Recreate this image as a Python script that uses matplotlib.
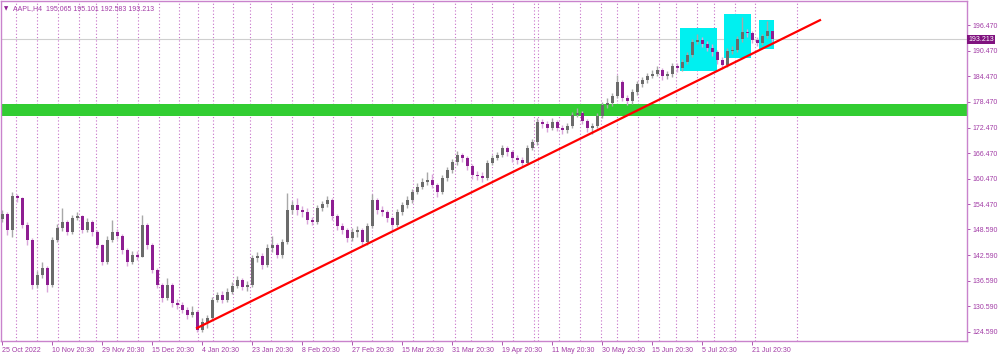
import matplotlib
matplotlib.use("Agg")
import matplotlib.pyplot as plt
from matplotlib.patches import Rectangle

# AAPL H4 - price path (one candle per ~5 px)
closes = [152.20, 148.45, 156.42, 155.95, 149.63, 146.11, 135.57, 137.92, 139.55, 135.57,
          146.11, 148.92, 150.33, 147.99, 151.26, 151.73, 148.45, 150.33, 147.99, 144.94,
          140.96, 146.11, 147.99, 147.05, 143.77, 140.96, 142.60, 142.10, 149.63, 144.94,
          139.09, 135.57, 132.53, 135.57, 131.36, 130.89, 129.72, 128.55, 129.25, 125.03,
          126.91, 127.84, 132.06, 133.23, 132.06, 133.93, 135.34, 136.74, 135.11, 135.57,
          141.90, 142.36, 140.26, 144.24, 144.90, 142.60, 145.64, 153.14, 154.31, 153.14,
          152.67, 150.80, 150.33, 153.61, 154.54, 155.48, 151.73, 149.39, 148.45, 146.58,
          147.99, 148.45, 145.64, 149.39, 155.48, 153.14, 152.67, 151.26, 149.63, 152.67,
          154.31, 155.48, 157.35, 158.52, 159.70, 160.16, 159.00, 157.35, 160.63, 162.51,
          164.38, 166.02, 165.32, 163.44, 161.33, 161.10, 160.70, 164.15, 165.32, 166.02,
          167.66, 166.72, 165.32, 164.90, 164.15, 167.66, 169.06, 173.75, 173.28, 172.34,
          173.75, 172.34, 171.87, 172.81, 175.39, 175.86, 173.98, 172.34, 172.81, 175.15,
          177.73, 178.20, 179.84, 183.12, 179.37, 178.67, 180.77, 182.65, 183.58, 184.52,
          184.99, 185.93, 184.52, 184.99, 186.86, 186.39, 187.80, 189.44, 192.48, 192.95,
          192.02, 191.08, 190.14, 188.27, 187.10, 190.38, 190.61, 193.19, 194.83, 194.59,
          192.95, 192.40, 193.89, 195.07, 193.213]
highs = [153.2, 152.6, 157.3, 157.0, 156.3, 150.4, 146.5, 138.9, 141.0, 140.0,
         146.8, 149.8, 153.6, 150.9, 152.0, 152.6, 152.1, 151.2, 150.8, 148.5,
         145.3, 147.0, 150.8, 148.6, 147.5, 144.3, 143.5, 143.6, 152.0, 150.1,
         145.4, 139.6, 136.0, 137.2, 136.0, 132.2, 131.5, 130.4, 130.7, 129.8,
         127.8, 128.6, 132.8, 134.0, 134.1, 134.8, 136.4, 137.6, 137.3, 136.5,
         142.7, 143.4, 143.0, 145.1, 147.0, 145.4, 146.4, 157.1, 155.3, 155.9,
         154.0, 153.6, 151.6, 154.4, 155.3, 156.5, 156.0, 152.2, 150.2, 149.0,
         148.9, 149.4, 148.9, 150.0, 156.9, 155.9, 154.0, 153.2, 151.8, 153.5,
         155.0, 156.4, 158.1, 159.4, 160.6, 162.0, 161.5, 159.6, 161.4, 163.3,
         165.2, 166.9, 166.6, 165.9, 164.0, 162.3, 162.0, 164.9, 166.1, 166.8,
         168.3, 168.1, 167.2, 166.0, 165.6, 168.3, 169.9, 174.6, 174.5, 173.9,
         174.6, 174.3, 173.0, 173.6, 176.1, 177.0, 176.3, 174.5, 173.6, 175.9,
         178.5, 179.3, 180.6, 184.7, 183.6, 180.1, 181.6, 183.4, 184.4, 185.3,
         186.0, 186.8, 186.4, 185.8, 187.6, 187.5, 188.6, 190.2, 193.3, 194.4,
         193.6, 192.7, 192.0, 190.7, 188.9, 191.1, 191.5, 194.0, 198.3, 195.6,
         195.1, 193.6, 194.5, 197.4, 195.101]
lows = [150.4, 147.3, 146.9, 155.0, 149.0, 144.9, 134.6, 134.9, 137.2, 133.9,
        135.0, 145.6, 148.3, 147.3, 147.5, 150.7, 147.8, 148.0, 147.0, 144.2,
        140.2, 140.5, 145.6, 146.3, 142.9, 140.0, 140.4, 141.5, 142.2, 144.0,
        138.3, 134.8, 131.7, 132.0, 130.5, 130.0, 129.0, 127.6, 128.0, 124.6,
        124.6, 125.4, 127.3, 131.5, 131.4, 131.6, 133.4, 134.8, 134.3, 134.2,
        135.0, 141.0, 139.3, 139.8, 143.4, 141.9, 142.0, 145.2, 152.2, 151.9,
        151.6, 149.8, 149.6, 149.9, 152.9, 153.8, 150.9, 148.5, 147.6, 145.6,
        146.0, 146.8, 144.8, 145.0, 149.0, 152.3, 151.7, 150.4, 148.5, 149.1,
        152.0, 153.7, 154.9, 156.8, 158.0, 159.0, 158.2, 156.3, 156.8, 160.0,
        161.9, 163.8, 164.5, 162.6, 160.4, 160.2, 159.8, 160.2, 163.6, 164.8,
        165.5, 165.9, 164.5, 164.0, 163.4, 163.7, 167.1, 168.5, 172.4, 171.5,
        171.8, 171.6, 171.0, 171.3, 172.3, 175.0, 173.2, 171.5, 171.0, 172.3,
        174.7, 177.1, 177.6, 179.3, 178.6, 177.8, 178.1, 180.2, 182.0, 183.0,
        184.0, 184.5, 183.7, 183.9, 184.4, 185.6, 185.8, 187.3, 189.0, 192.0,
        191.3, 190.3, 189.3, 187.4, 186.2, 186.6, 189.8, 190.1, 192.6, 193.7,
        192.2, 191.6, 191.9, 193.4, 192.583]
first_open = 151.0
opens = [first_open] + closes[:-1]

# x tick labels (every 10 bars)
tick_bars = list(range(0, 160, 10))
tick_labels = ["25 Oct 2022", "10 Nov 20:30", "29 Nov 20:30", "15 Dec 20:30", "4 Jan 20:30",
               "23 Jan 20:30", "8 Feb 20:30", "27 Feb 20:30", "15 Mar 20:30", "31 Mar 20:30",
               "19 Apr 20:30", "11 May 20:30", "30 May 20:30", "15 Jun 20:30", "5 Jul 20:30",
               "21 Jul 20:30"]

# weekly separators (bar positions)
sep_bars = [2.8, 7.0, 11.2, 15.4, 18.8, 23.0, 27.2, 31.4, 35.4, 39.2, 42.2, 46.2, 49.6,
            53.8, 58.0, 62.2, 66.2, 69.8, 74.0, 78.0, 82.2, 86.2, 90.6, 93.8, 98.0, 102.2,
            106.4, 107.2, 111.4, 115.6, 119.8, 123.0, 127.2, 131.4, 134.8, 139.0, 142.4,
            146.6, 150.6, 159.0]

# price axis
ytick_vals = [124.59, 130.59, 136.59, 142.59, 148.59, 154.47, 160.47, 166.47,
              172.47, 178.47, 184.47, 190.47, 196.47]
last_price = 193.213

# drawn objects
zone = (175.08, 178.03)
trend = ((39.0, 125.5), (163.6, 197.64))
boxes = [(135.6, 185.69, 143.0, 195.76), (144.4, 188.74, 149.8, 199.04), (151.4, 190.84, 154.4, 197.64)]

purple = "#a23ca6"
axis_col = "#c983cc"
bull_body, bull_wick = "#6b6b6b", "#a8a8a8"
bear_body, bear_wick = "#8e1e92", "#d9a6da"

fig = plt.figure(figsize=(10, 3.54), dpi=100)
ax = fig.add_axes([0.001, 0.0367, 0.966, 0.960])
ax.set_xlim(-0.2, 193.0)
ax.set_ylim(122.46, 202.09)

for xb in sep_bars:
    ax.axvline(xb, color="#c66fc8", lw=0.8, ls=(0, (1, 2)), zorder=1)

ax.axhspan(zone[0], zone[1], color="#32cd32", zorder=2, lw=0)
ax.axhline(last_price, color="#cfcfcf", lw=0.8, zorder=1.5)

for x0, y0, x1, y1 in boxes:
    ax.add_patch(Rectangle((x0, y0), x1 - x0, y1 - y0, facecolor="#00f0f0", edgecolor="none", zorder=2))

for i in range(len(closes)):
    o, c, h, l = opens[i], closes[i], highs[i], lows[i]
    up = c >= o
    ax.vlines(i, l, h, color=bull_wick if up else bear_wick, lw=1.0, zorder=3)
    lo, hi = min(o, c), max(o, c)
    ax.bar(i, max(hi - lo, 0.15), bottom=lo, width=0.6,
           color=bull_body if up else bear_body, lw=0, zorder=4)

ax.plot([trend[0][0], trend[1][0]], [trend[0][1], trend[1][1]], color="#ff0000", lw=1.6, zorder=5)

for s in ax.spines.values():
    s.set_color(axis_col)
    s.set_linewidth(1.0)

ax.yaxis.tick_right()
ax.set_yticks(ytick_vals)
ax.set_yticklabels(["%.3f" % v for v in ytick_vals])
ax.tick_params(axis="y", colors=purple, labelsize=5, length=2, width=0.6, pad=2)
ax.set_xticks(tick_bars)
ax.set_xticklabels(tick_labels, ha="left")
ax.tick_params(axis="x", colors=purple, labelsize=5, length=3, width=0.6, pad=1)
for lab in ax.get_xticklabels():
    lab.set_fontfamily("Liberation Sans")
for lab in ax.get_yticklabels():
    lab.set_fontfamily("Liberation Sans")

ax.annotate("%.3f" % last_price, xy=(1.0, last_price), xycoords=("axes fraction", "data"),
            xytext=(1, 0), textcoords="offset points", ha="left", va="center",
            fontsize=5, color="white", family="Liberation Sans",
            bbox=dict(boxstyle="square,pad=0.15", facecolor="#80127f", edgecolor="none"))

ax.text(0.003, 0.985, "\u25bc", transform=ax.transAxes, fontsize=4, color="#8e1e92",
        va="top", ha="left", family=["DejaVu Sans"])
ax.text(0.012, 0.99, "AAPL,H4  195.065 195.101 192.583 193.213", transform=ax.transAxes,
        fontsize=5, color=purple, va="top", ha="left", family="Liberation Sans")

fig.savefig("out.png", dpi=100, facecolor="white")
